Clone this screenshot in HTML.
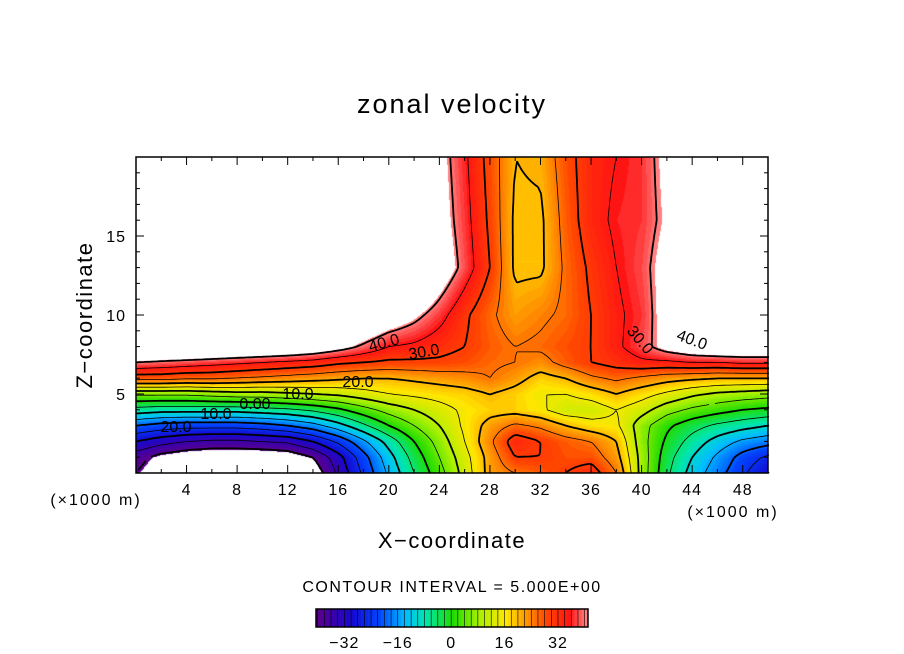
<!DOCTYPE html>
<html><head><meta charset="utf-8"><style>
body{margin:0;background:#fff;width:904px;height:654px;overflow:hidden;position:relative;font-family:"Liberation Sans",sans-serif;}
#cv{position:absolute;left:136px;top:157px;}
svg{position:absolute;left:0;top:0;}
text{font-family:"Liberation Sans",sans-serif;fill:#000;}
</style></head><body>
<canvas id="cv" width="632" height="316"></canvas>
<svg id="sv" width="904" height="654"></svg>
<script>
const xCoords=[0,2,4,6,8,10,12,14,16,18,20,22,24,26,28,30,32,34,36,38,40,42,44,46,48,50];
const zCoords=[0,1,2,3,4,5,6,7,8,10,13,16,20];
const r0=[-40,-44,-47,-48,-48,-48,-47,-44,-34,-24,-14,-5,3,12,22,25,27,30,33,25,8,-4,-12,-18,-24,-30];
const r1=[-38,-42,-44,-45,-45,-45,-44,-40,-32,-22,-12,-3,5,13,22,30,30,28,28,22,8,-3,-10,-16,-22,-26];
const r2=[-30,-33,-35,-36,-36,-35,-34,-30,-24,-16,-8,0,7,15,24,33,30,27,25,20,7,-1,-7,-12,-16,-18];
const r3=[-20,-22,-23,-23,-23,-22,-20,-17,-12,-6,0,5,10,16,22,26,24,20,17,16,7,1,-3,-6,-8,-10];
const r4=[-7,-8,-8,-8,-8,-7,-6,-4,-1,3,7,10,13,16,18,18,16,12,12,15,12,7,4,2,0,-1];
const r5=[6,6,6,7,8,8,9,10,11,13,15,16,17,18,20,18,15,15,17,20,17,14,11,9,8,7];
const r6=[27,27,26,26,25,24,23,22,21,20,20,21,22,23,25,22,18,20,24,26,24,22,21,20,20,20];
const r7=[40,39,38,37,36,35,34,33,31,30,29,29,29,28,26,25,23,27,30,32,34,34,35,35,36,36];
const r8=[52,52,52,51,50,49,48,46,43,39,35,34,32,30,27,25,26,28,30,34,38,43,46,48,48,48];
const r10=[55,55,55,55,55,55,55,55,54,50,46,42,37,31,26,22,24,26,30,34,37,44,52,55,55,55];
const r13=[55,55,55,55,55,55,55,55,55,55,55,55,46,38,30,19,19,26,31,35,38,44,55,55,55,55];
const r16=[55,55,55,55,55,55,55,55,55,55,55,55,44,37,29,19,19,27,33,36,37,42,55,55,55,55];
const r20=[55,55,55,55,55,55,55,55,55,55,55,55,43,36,28,20,21,28,33,35,37,43,55,55,55,55];
const field=[r0,r1,r2,r3,r4,r5,r6,r7,r8,r10,r13,r16,r20];
const xTicks=[4,8,12,16,20,24,28,32,36,40,44,48];
const zTicks=[5,10,15];
const cbTicks=[-32,-16,0,16,32];
const VMIN=-40.5,VMAX=41;
const X=x=>136+x*632/50, Z=z=>473-z*316/20;
function idx(arr,v){let i=0;while(i<arr.length-2&&v>arr[i+1])i++;return i;}
function val(x,z){const i=idx(xCoords,x),j=idx(zCoords,z);
 const tx=(x-xCoords[i])/(xCoords[i+1]-xCoords[i]),tz=(z-zCoords[j])/(zCoords[j+1]-zCoords[j]);
 const a=field[j][i],b=field[j][i+1],c=field[j+1][i],d=field[j+1][i+1];
 return (a*(1-tx)+b*tx)*(1-tz)+(c*(1-tx)+d*tx)*tz;}
const stops=[[-40.5,[90,0,140]],[-36,[60,0,170]],[-30,[20,10,210]],[-22,[0,70,255]],[-14,[0,190,255]],[-8,[0,230,170]],[0,[30,220,0]],[8,[170,240,0]],[16,[255,230,0]],[22,[255,150,0]],[28,[255,70,0]],[35,[255,20,20]],[41,[255,150,150]]];
function col(v){v=Math.floor(v);if(v<stops[0][0])v=stops[0][0];
 for(let k=0;k<stops.length-1;k++){const[a,ca]=stops[k],[b,cb]=stops[k+1];if(v<=b){const t=(v-a)/(b-a);return ca.map((c,i)=>Math.round(c+(cb[i]-c)*t));}}
 return stops[stops.length-1][1];}
const cv=document.getElementById('cv'),ctx=cv.getContext('2d'),img=ctx.createImageData(632,316);
for(let py=0;py<316;py++)for(let px=0;px<632;px++){
 const v=val(px*50/632,(316-py)*20/316);const o=(py*632+px)*4;
 let c=(v>VMAX||v<VMIN)?[255,255,255]:col(v);img.data[o]=c[0];img.data[o+1]=c[1];img.data[o+2]=c[2];img.data[o+3]=255;}
ctx.putImageData(img,0,0);
const NS='http://www.w3.org/2000/svg',sv=document.getElementById('sv');
function mk(t,at,txt){const e=document.createElementNS(NS,t);for(const k in at)e.setAttribute(k,at[k]);if(txt!=null)e.textContent=txt;sv.appendChild(e);return e;}
const st=3,nx=Math.round(632/st),nz=Math.round(316/st),G=[];
for(let j=0;j<=nz;j++){G.push([]);for(let i=0;i<=nx;i++)G[j].push(val(i*st*50/632,j*st*20/316));}
for(let L=-40;L<=40;L+=5){let d='';
 for(let j=0;j<nz;j++)for(let i=0;i<nx;i++){
  const p=[[i,j,G[j][i]],[i+1,j,G[j][i+1]],[i+1,j+1,G[j+1][i+1]],[i,j+1,G[j+1][i]]];const pts=[];
  for(let k=0;k<4;k++){const A=p[k],B=p[(k+1)%4];if((A[2]-L)*(B[2]-L)<0){const t=(L-A[2])/(B[2]-A[2]);pts.push([136+(A[0]+(B[0]-A[0])*t)*st,473-(A[1]+(B[1]-A[1])*t)*st]);}}
  for(let k=0;k+1<pts.length;k+=2)d+='M'+pts[k][0].toFixed(1)+' '+pts[k][1].toFixed(1)+'L'+pts[k+1][0].toFixed(1)+' '+pts[k+1][1].toFixed(1);}
 if(d){const e=mk('path',{d:d,fill:'none',stroke:'#000','stroke-width':L%10===0?1.8:0.8,'stroke-dasharray':L<0?'5,3':'none'});
 
 }}
const fr=mk('rect',{x:136,y:157,width:632,height:316,fill:'none',stroke:'#000','stroke-width':1.5});

for(let x=2;x<50;x+=2){const m=x%4===0,l=m?8:4;
 mk('line',{x1:X(x),x2:X(x),y1:473,y2:473-l,stroke:'#000'});mk('line',{x1:X(x),x2:X(x),y1:157,y2:157+l,stroke:'#000'});}
for(let z=1;z<20;z++){const l=z%5===0?8:4;
 mk('line',{x1:136,x2:136+l,y1:Z(z),y2:Z(z),stroke:'#000'});mk('line',{x1:768,x2:768-l,y1:Z(z),y2:Z(z),stroke:'#000'});}
xTicks.forEach(t=>{const e=mk('text',{x:X(t),y:495,'text-anchor':'middle','font-size':16,'letter-spacing':1},String(t));
 });
zTicks.forEach(t=>{const e=mk('text',{x:126,y:Z(t)+6,'text-anchor':'end','font-size':16,'letter-spacing':1},String(t));
 });
[['40.0',384,348,-15],['30.0',424,357,-10],['20.0',358,387,0],['10.0',298,399,0],['0.00',255,409,0],['10.0',216,419,0],['20.0',176,432,0],['30.0',640,345,50],['40.0',692,345,20]].forEach(a=>{
 const e=mk('text',{x:a[1],y:a[2],'text-anchor':'middle','font-size':16,transform:'rotate('+a[3]+' '+a[1]+' '+(a[2]-5)+')'},a[0]);
 });
const cx=v=>316+(v-VMIN)*(588-316)/(VMAX-VMIN);
for(let v=-41;v<41;v++){const a=Math.max(v,VMIN),b=Math.min(v+1,VMAX);const c=col(v+0.5);
 const e=mk('rect',{x:cx(a),y:609,width:cx(b)-cx(a)+0.3,height:18,fill:'rgb('+c.join(',')+')'});
 
 if(v%2===0)mk('line',{x1:cx(a),x2:cx(a),y1:609,y2:627,stroke:'#000','stroke-width':0.6});}
mk('rect',{x:316,y:609,width:272,height:18,fill:'none',stroke:'#000','stroke-width':1.5});
cbTicks.forEach(t=>{const e=mk('text',{x:cx(t),y:648,'text-anchor':'middle','font-size':16,'letter-spacing':1},(t<0?'\u2212':'')+Math.abs(t));
 });
</script>
<svg width="904" height="654" style="pointer-events:none">
<text x="452" y="113" text-anchor="middle" font-size="27" letter-spacing="2">zonal velocity</text>
<text x="92" y="315" text-anchor="middle" font-size="22" letter-spacing="1.5" transform="rotate(-90 92 315)">Z−coordinate</text>
<text x="452" y="548" text-anchor="middle" font-size="22" letter-spacing="1.5">X−coordinate</text>
<text x="96" y="505" text-anchor="middle" font-size="16" letter-spacing="2">(×1000 m)</text>
<text x="733" y="517" text-anchor="middle" font-size="16" letter-spacing="2">(×1000 m)</text>
<text x="452" y="592" text-anchor="middle" font-size="16" letter-spacing="1.5">CONTOUR INTERVAL = 5.000E+00</text>
</svg>
</body></html>
